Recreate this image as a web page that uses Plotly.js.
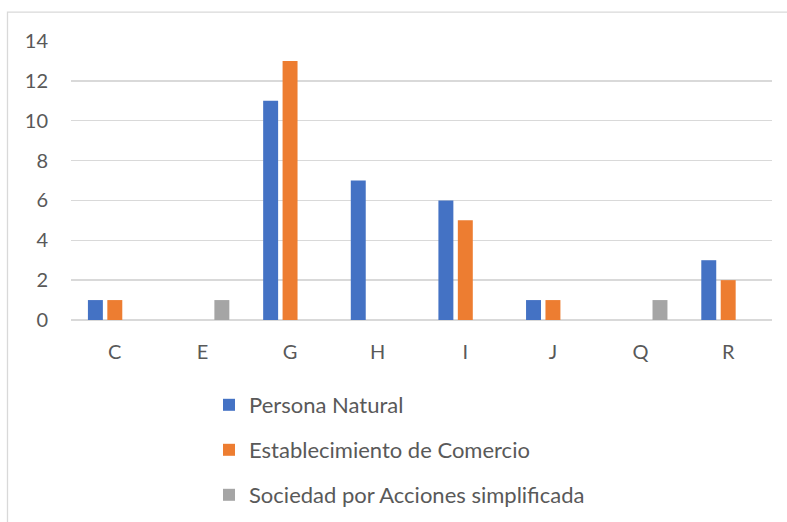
<!DOCTYPE html>
<html>
<head>
<meta charset="utf-8">
<script src="https://cdn.plot.ly/plotly-3.0.1.min.js"></script>
<style>html,body{margin:0;padding:0;background:#fff;}#chart{width:787px;height:522px;}</style>
</head>
<body>
<div id="chart"></div>
<script>
const categories = ["C", "E", "G", "H", "I", "J", "Q", "R"];
const seriesNames = ["Persona Natural", "Establecimiento de Comercio", "Sociedad por Acciones simplificada"];
const personaNatural = [1, 0, 11, 7, 6, 1, 0, 3];
const establecimiento = [1, 0, 13, 0, 5, 1, 0, 2];
const sociedad = [0, 1, 0, 0, 0, 0, 1, 0];
const yTicks = [0, 2, 4, 6, 8, 10, 12, 14];

const colors = ["#4472C4", "#ED7D31", "#A5A5A5"];
const values = [personaNatural, establecimiento, sociedad];
const legends = ["legend", "legend2", "legend3"];
const legendY = [405, 450, 495];

const FONT = "Lato, 'Open Sans', sans-serif";
const TXT = "#595959";

const W = 787, H = 522;
const ml = 71, mr = 15, mt = 40.5, mb = 201.5;
const pw = W - ml - mr, ph = H - mt - mb;

const traces = values.map((v, i) => ({
  type: "bar",
  name: seriesNames[i],
  x: categories,
  y: v,
  marker: {color: colors[i], line: {width: 0}},
  legend: legends[i],
  showlegend: true,
  hoverinfo: "skip"
}));

const layout = {
  width: W, height: H,
  showlegend: true,
  margin: {l: ml, r: mr, t: mt, b: mb, pad: 0, autoexpand: false},
  paper_bgcolor: "#fff",
  plot_bgcolor: "#fff",
  font: {family: FONT, color: TXT, size: 20},
  barmode: "group",
  bargap: 0.335,
  bargroupgap: 0.23,
  xaxis: {
    type: "category",
    automargin: false,
    showgrid: false,
    showline: false,
    zeroline: false,
    ticks: "",
    ticklabelstandoff: 18,
    tickfont: {family: FONT, size: 20, color: TXT}
  },
  yaxis: {
    range: [0, 14],
    automargin: false,
    tickvals: yTicks,
    ticktext: yTicks.map(String),
    showgrid: true,
    gridcolor: "#D9D9D9",
    gridwidth: 1.3,
    zeroline: true,
    zerolinecolor: "#D9D9D9",
    zerolinewidth: 1.3,
    showline: false,
    ticks: "",
    ticklabelstandoff: 22,
    tickfont: {family: FONT, size: 20, color: TXT}
  },
  shapes: [{
    type: "rect",
    xref: "paper", yref: "paper",
    x0: (7.5 - ml) / pw, x1: (800 - ml) / pw,
    y0: (H - 540 - mb) / ph, y1: (H - 11.5 - mb) / ph,
    line: {color: "#D9D9D9", width: 1.3},
    fillcolor: "rgba(0,0,0,0)",
    layer: "below"
  }]
};

legends.forEach((lg, i) => {
  layout[lg] = {
    visible: true,
    xref: "container", yref: "container",
    x: 209 / W, y: 1 - legendY[i] / H,
    xanchor: "left", yanchor: "middle",
    orientation: "v",
    bgcolor: "rgba(0,0,0,0)",
    borderwidth: 0,
    font: {family: FONT, size: 22, color: TXT}
  };
});

Plotly.newPlot("chart", traces, layout, {staticPlot: true, displayModeBar: false});
</script>
</body>
</html>
